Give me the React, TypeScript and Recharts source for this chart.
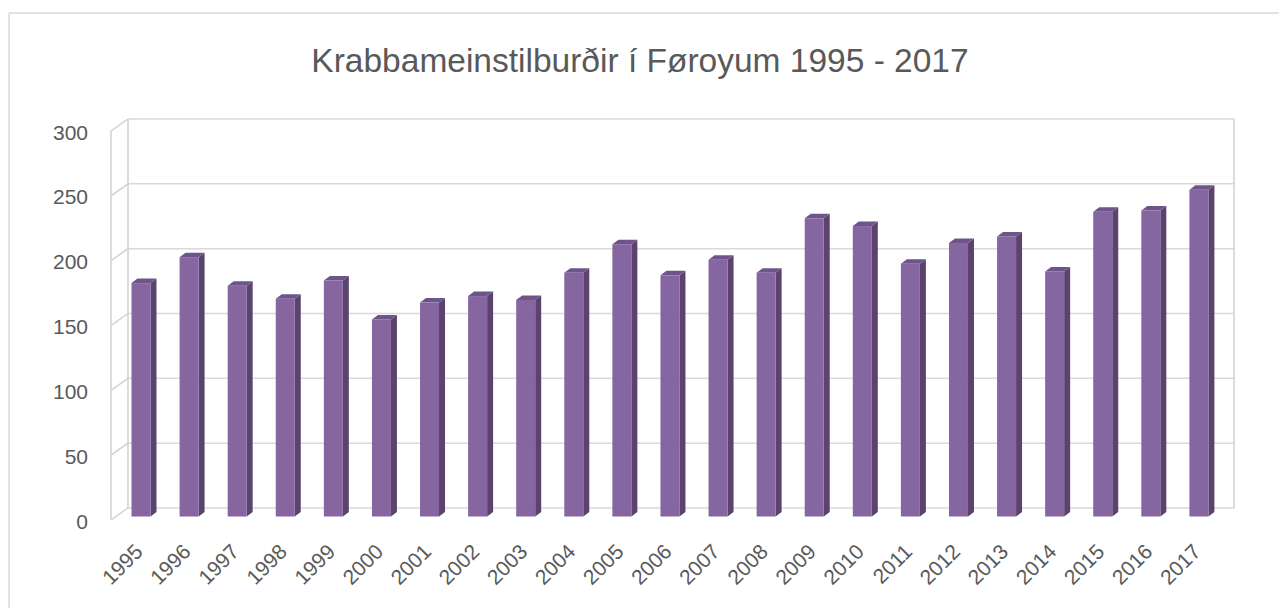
import React from 'react';
import { BarChart, Bar, XAxis, YAxis, CartesianGrid, Customized } from 'recharts';

const years = ['1995','1996','1997','1998','1999','2000','2001','2002','2003','2004','2005','2006','2007','2008','2009','2010','2011','2012','2013','2014','2015','2016','2017'];
const cases = [180,200,178,168,182,152,165,170,167,188,210,186,198,188,230,224,195,211,216,189,235,236,252];
const yTicks = [0,50,100,150,200,250,300];
const title = 'Krabbameinstilburðir í Føroyum 1995 - 2017';

const data = years.map((year, i) => ({ year, value: cases[i] }));

const W = 1279;
const H = 600;
const Y_W = 17;
const X_H = 2;
const M = { top: 111, right: 53, bottom: 100 - X_H, left: 120 - Y_W };
const PL = 120;
const PT = M.top;
const PR = W - M.right;
const PB = 500;
const DEPTH = { dx: -17, dy: 12 };
const FRONT = { dx: -11.5, dy: 8.5 };
const BACK = { dx: -5.5, dy: 4 };
const FONT = '"Liberation Sans", Arial, sans-serif';
const TEXT = '#595959';
const WALL = '#d0d0d0';

const Bar3D = (props: any) => {
  const { x, y, width, height } = props;
  if (height == null || width == null) return null;
  const fx = x + FRONT.dx, fy = y + FRONT.dy;
  const bx = x + BACK.dx, by = y + BACK.dy;
  return (
    <g>
      <polygon points={`${fx + width},${fy} ${bx + width},${by} ${bx + width},${by + height} ${fx + width},${fy + height}`} fill="#5a446f" />
      <polygon points={`${fx},${fy} ${bx},${by} ${bx + width},${by} ${fx + width},${fy}`} fill="#6d5589" />
      <rect x={fx} y={fy} width={width} height={height} fill="#8666a0" />
    </g>
  );
};

const renderYTick = (props: any) => {
  const { y, payload } = props;
  return (
    <text key={`y-${payload.value}`} x={PL - 40} y={y + 13} textAnchor="end" dominantBaseline="central" fontFamily={FONT} fontSize={21} fill={TEXT}>
      {payload.value}
    </text>
  );
};

const renderXTick = (props: any) => {
  const { x, payload } = props;
  const ax = x - 8;
  const ay = PB + 45;
  return (
    <text key={`x-${payload.value}`} x={ax} y={ay} transform={`rotate(-45 ${ax} ${ay})`} textAnchor="end" fontFamily={FONT} fontSize={21} fill={TEXT}>
      {payload.value}
    </text>
  );
};

const Walls = () => {
  const h = PB - PT;
  const yOf = (v: number) => PT + h * (1 - v / 300);
  return (
    <g>
      <line x1={1} y1={5} x2={1} y2={H} stroke="#d9d9d9" strokeWidth={1.5} />
      <line x1={1} y1={5} x2={W} y2={5} stroke="#d9d9d9" strokeWidth={1.5} />
      <line x1={PL} y1={PT} x2={PL} y2={PB} stroke={WALL} strokeWidth={1.5} />
      <line x1={PR} y1={PT} x2={PR} y2={PB} stroke={WALL} strokeWidth={1.5} />
      <line x1={PL + DEPTH.dx} y1={PT + DEPTH.dy} x2={PL + DEPTH.dx} y2={PB + DEPTH.dy} stroke={WALL} strokeWidth={1.5} />
      {yTicks.map((v) => (
        <line key={v} x1={PL + DEPTH.dx} y1={yOf(v) + DEPTH.dy} x2={PL} y2={yOf(v)} stroke={WALL} strokeWidth={1.5} />
      ))}
      <text x={632} y={64} textAnchor="middle" fontFamily={FONT} fontSize={33.5} fill={TEXT}>{title}</text>
    </g>
  );
};

export default function App() {
  return (
    <div style={{ width: W, height: H, background: '#fff' }}>
      <BarChart width={W} height={H} data={data} margin={M} barSize={19}>
        <CartesianGrid vertical={false} stroke="#d9d9d9" strokeWidth={1.5} />
        <Customized component={<Walls />} />
        <XAxis dataKey="year" axisLine={false} tickLine={false} interval={0} height={X_H} tick={renderXTick} />
        <YAxis domain={[0, 300]} ticks={yTicks} axisLine={false} tickLine={false} width={Y_W} tick={renderYTick} />
        <Bar dataKey="value" isAnimationActive={false} shape={(p: any) => <Bar3D {...p} />} />
      </BarChart>
    </div>
  );
}
